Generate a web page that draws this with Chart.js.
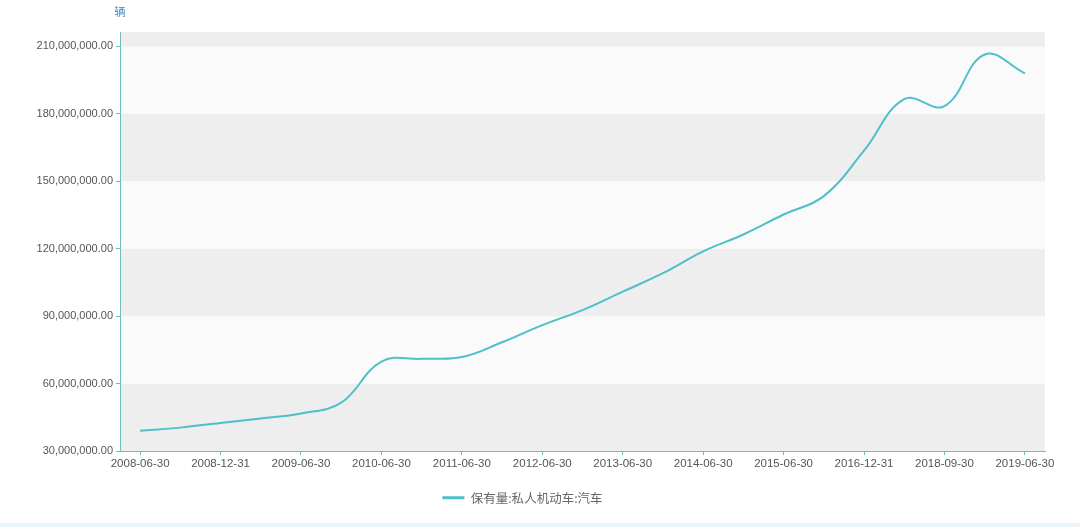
<!DOCTYPE html>
<html>
<head>
<meta charset="utf-8">
<script src="https://cdn.jsdelivr.net/npm/chart.js@4/dist/chart.umd.min.js"></script>
<style>
  html, body { margin: 0; padding: 0; background: #fff; }
  #wrap { position: relative; width: 1080px; height: 527px; }
  #strip { position: absolute; left: 0; right: 0; bottom: 0; height: 4px; background: #eaf5fa; }
</style>
</head>
<body>
<div id="wrap">
  <canvas id="carChart" width="1080" height="527"></canvas>
  <div id="strip"></div>
</div>
<script>
// 保有量:私人机动车:汽车 (辆)
const dates = [
    '2008-06-30', '2008-09-30', '2008-12-31', '2009-03-31', '2009-06-30', '2009-12-31',
    '2010-06-30', '2010-12-31', '2011-06-30', '2011-12-31', '2012-06-30', '2012-12-31',
    '2013-06-30', '2013-12-31', '2014-06-30', '2014-12-31', '2015-06-30', '2015-12-31',
    '2016-12-31', '2017-12-31', '2018-09-30', '2018-12-31', '2019-06-30'
];
const privateCars = [
    39.0e6, 40.4e6, 42.5e6, 44.5e6, 46.7e6, 51.5e6,
    69.8e6, 71.0e6, 71.8e6, 78.4e6, 86.0e6, 92.7e6,
    100.9e6, 109.1e6, 118.8e6, 126.3e6, 135.2e6, 143.4e6,
    163.6e6, 186.5e6, 183.4e6, 206.4e6, 198.0e6
];
const yTicks = [30e6, 60e6, 90e6, 120e6, 150e6, 180e6, 210e6];
const seriesName = '保有量:私人机动车:汽车';
const unitLabel = '辆';
const yMin = 30e6;
const yMax = 216.4e6;

const axisColor = '#72bcc4';
const lineColor = '#4fbfc8';
const labelFont = { family: '"Liberation Sans", Arial, sans-serif', size: 11 };

// alternating horizontal bands behind the plot
const bandPlugin = {
    id: 'bands',
    beforeDraw(chart) {
        const { ctx, chartArea, scales } = chart;
        const y = scales.y;
        const edges = [...yTicks, yMax];
        for (let i = 0; i < edges.length - 1; i++) {
            const top = y.getPixelForValue(edges[i + 1]);
            const bottom = y.getPixelForValue(edges[i]);
            ctx.fillStyle = i % 2 === 0 ? '#eeeeee' : '#fafafa';
            ctx.fillRect(chartArea.left, top, chartArea.right - chartArea.left, bottom - top);
        }
    }
};

// unit name above the y axis
const unitPlugin = {
    id: 'unit',
    afterDraw(chart) {
        const { ctx } = chart;
        ctx.save();
        ctx.fillStyle = '#3a8fcf';
        ctx.font = '11px "Noto Sans CJK SC", sans-serif';
        ctx.textAlign = 'center';
        ctx.textBaseline = 'middle';
        ctx.fillText(unitLabel, chart.scales.y.right, 12);
        ctx.restore();
    }
};

new Chart(document.getElementById('carChart').getContext('2d'), {
    type: 'line',
    data: {
        labels: dates,
        datasets: [{
            label: seriesName,
            data: privateCars,
            borderColor: lineColor,
            backgroundColor: lineColor,
            borderWidth: 2,
            tension: 0.4,
            pointRadius: 0,
            fill: false
        }]
    },
    options: {
        responsive: false,
        animation: false,
        layout: { padding: { left: 0, right: 35, top: 32, bottom: 13 } },
        plugins: {
            tooltip: { enabled: false },
            legend: {
                position: 'bottom',
                labels: {
                    boxWidth: 22,
                    boxHeight: 3,
                    color: '#666',
                    font: { family: '"Noto Sans CJK SC", sans-serif', size: 12.5 },
                    generateLabels: chart => Chart.defaults.plugins.legend.labels.generateLabels(chart)
                        .map(l => ({ ...l, lineWidth: 0 }))
                }
            }
        },
        scales: {
            x: {
                offset: true,
                afterFit: scale => { scale.height = 30.5; },
                border: { display: true, color: axisColor, width: 1 },
                grid: {
                    offset: false,
                    drawOnChartArea: false,
                    drawTicks: true,
                    tickLength: 4,
                    tickColor: c => c.index % 2 === 0 ? axisColor : 'rgba(0,0,0,0)'
                },
                ticks: {
                    autoSkip: false,
                    maxRotation: 0,
                    padding: 2,
                    color: '#555',
                    font: { ...labelFont, size: 11.5 },
                    callback: (v, i) => i % 2 === 0 ? dates[i] : ''
                }
            },
            y: {
                min: yMin,
                max: yMax,
                afterFit: scale => { scale.width = 120; },
                afterBuildTicks: scale => { scale.ticks = yTicks.map(v => ({ value: v })); },
                border: { display: true, color: axisColor, width: 1 },
                grid: {
                    drawOnChartArea: false,
                    drawTicks: true,
                    tickLength: 4,
                    tickColor: axisColor
                },
                ticks: {
                    padding: 3,
                    color: '#555',
                    font: labelFont,
                    callback: v => v.toLocaleString('en-US', { minimumFractionDigits: 2, maximumFractionDigits: 2 })
                }
            }
        }
    },
    plugins: [bandPlugin, unitPlugin]
});
</script>
</body>
</html>
